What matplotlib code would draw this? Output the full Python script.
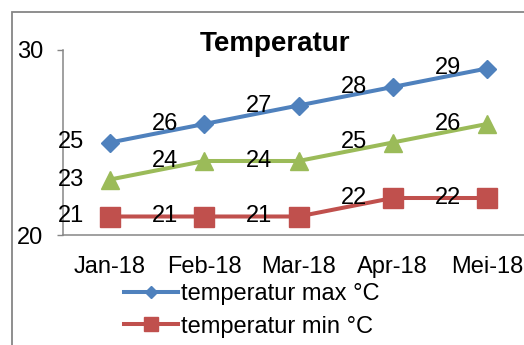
import matplotlib
matplotlib.use("Agg")
import matplotlib.pyplot as plt
from matplotlib.patches import Rectangle
from matplotlib.lines import Line2D

plt.rcParams['font.family'] = ['Liberation Sans', 'DejaVu Sans']

categories = ["Jan-18", "Feb-18", "Mar-18", "Apr-18", "Mei-18"]
temp_max = [25, 26, 27, 28, 29]
temp_mid = [23, 24, 24, 25, 26]
temp_min = [21, 21, 21, 22, 22]
label_max = "temperatur max °C"
label_min = "temperatur min °C"
title = "Temperatur"
yticks = [20, 30]

W, H = 524, 345
fig = plt.figure(figsize=(W / 100, H / 100), dpi=100)

def fx(px):
    return px / W

def fy(py):
    return 1 - py / H

ax = fig.add_axes([fx(63), fy(235), fx(534) - fx(63), fy(50) - fy(235)])
ax.set_clip_on(False)

x = list(range(len(categories)))
blue, red, green = "#4F81BD", "#C0504D", "#9BBB59"
fs = 17

series = [
    (temp_max, blue, 'D', 9),
    (temp_mid, green, '^', 13),
    (temp_min, red, 's', 14),
]
for vals, col, mk, ms in series:
    ax.plot(x, vals, color=col, lw=2.9, marker=mk, markersize=ms,
            markerfacecolor=col, markeredgecolor=col, clip_on=False, zorder=3)
    for xi, v in zip(x, vals):
        ax.annotate(str(v), (xi, v), xytext=(-26, 0), textcoords='offset pixels',
                    ha='right', va='center', fontsize=fs, color='black', zorder=4)

ax.set_xlim(-0.5, 4.5)
ax.set_ylim(20, 30)
ax.set_yticks(yticks)
ax.set_yticklabels([str(t) for t in yticks], fontsize=fs)
ax.set_xticks(x)
ax.set_xticklabels(categories, fontsize=fs)
ax.tick_params(axis='x', length=0, pad=15)
ax.tick_params(axis='y', length=4.3, width=1, color='#868686', pad=10)
for s in ['top', 'right']:
    ax.spines[s].set_visible(False)
for s in ['left', 'bottom']:
    ax.spines[s].set_color('#868686')
    ax.spines[s].set_linewidth(1.1)
ax.set_facecolor('none')

fig.text(fx(275), fy(51), title, ha='center', va='baseline',
         fontsize=20, fontweight='bold')

# outer chart border
fig.patches.append(Rectangle((fx(12), fy(400)), 2, fy(12) - fy(400),
                             transform=fig.transFigure, fill=False,
                             edgecolor='#868686', linewidth=1.3))

handles = [
    Line2D([], [], color=blue, lw=2.9, marker='D', markersize=6),
    Line2D([], [], color=red, lw=2.9, marker='s', markersize=10),
]
fig.legend(handles, [label_max, label_min], loc='upper left',
           bbox_to_anchor=(fx(124), fy(283)), frameon=False, fontsize=fs,
           handlelength=2.3, handletextpad=0.1, labelspacing=0.45,
           borderpad=0, borderaxespad=0)

fig.savefig("out.png", dpi=100)
